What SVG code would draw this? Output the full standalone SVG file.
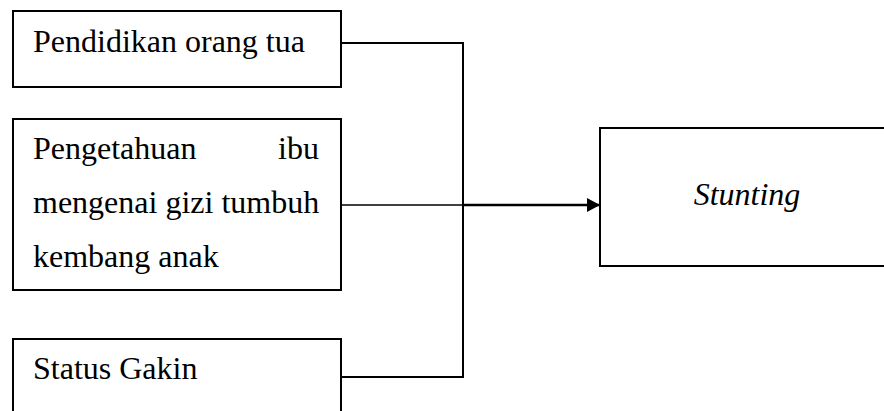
<svg xmlns="http://www.w3.org/2000/svg" width="884" height="411" viewBox="0 0 884 411">
<style>
.box{fill:#fff;stroke:#000;stroke-width:2}
.t{font-family:"Liberation Serif","Times New Roman",serif;font-size:32px;fill:#000}
.c{fill:none;stroke:#000;stroke-width:2}
</style>
<defs>
<marker id="ah" markerWidth="14" markerHeight="14" refX="13" refY="7" orient="auto" markerUnits="userSpaceOnUse">
<path d="M0,0 L13,7 L0,14 Z" fill="#000"/>
</marker>
</defs>
<rect width="884" height="411" fill="#fff"/>
<g id="connectors">
<path class="c" d="M342,43 H463 V377 H342"/>
<path class="c" style="stroke-width:1.5" d="M342,205 H463"/>
<path class="c" style="stroke-width:2.5" d="M463,205 H600" marker-end="url(#ah)"/>
</g>
<g id="n1">
<rect class="box" x="13" y="11" width="328" height="76"/>
<text class="t" x="33" y="52">Pendidikan orang tua</text>
</g>
<g id="n2">
<rect class="box" x="13" y="119" width="328" height="171"/>
<text class="t" x="33" y="159">Pengetahuan</text>
<text class="t" x="319" y="159" text-anchor="end">ibu</text>
<text class="t" x="33" y="213">mengenai gizi tumbuh</text>
<text class="t" x="33" y="267">kembang anak</text>
</g>
<g id="n3">
<rect class="box" x="13" y="339" width="328" height="90"/>
<text class="t" x="33" y="379">Status Gakin</text>
</g>
<g id="n4">
<rect class="box" x="600" y="128" width="300" height="138"/>
<text class="t" x="747" y="205" text-anchor="middle" font-style="italic">Stunting</text>
</g>
</svg>
